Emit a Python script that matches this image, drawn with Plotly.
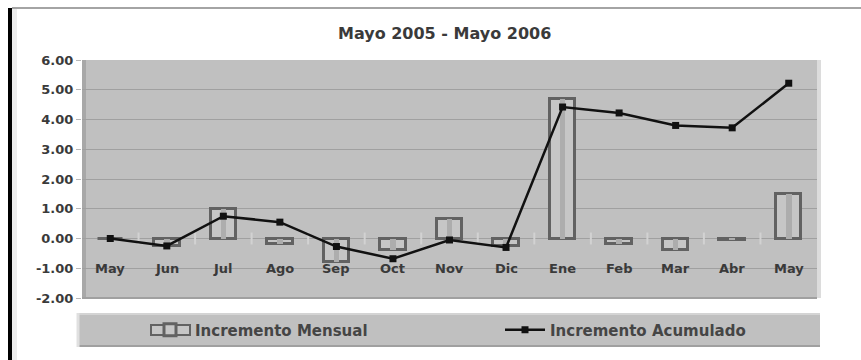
import plotly.graph_objects as go

months = ["May", "Jun", "Jul", "Ago", "Sep", "Oct", "Nov", "Dic", "Ene", "Feb", "Mar", "Abr", "May"]
mensual = [0.0, -0.25, 1.0, -0.2, -0.8, -0.4, 0.65, -0.25, 4.7, -0.2, -0.4, -0.05, 1.5]
acumulado = [0.0, -0.25, 0.75, 0.55, -0.27, -0.68, -0.05, -0.3, 4.42, 4.22, 3.8, 3.72, 5.22]
y_ticks = [6, 5, 4, 3, 2, 1, 0, -1, -2]
title_text = "Mayo 2005 - Mayo 2006"

W, H = 861, 360
L, R, T, B = 82, 44, 60, 62
PW, PH = W - L - R, H - T - B


def px(x):
    return (x - L) / PW


def py(y):
    return (H - B - y) / PH


xs = list(range(len(months)))
FONT = "DejaVu Sans"
TXT = "#3a3a3a"

fig = go.Figure()

# boundary tick marks along the zero line
tx, ty = [], []
for i in range(len(months) - 1):
    tx += [i + 0.5, i + 0.5, None]
    ty += [0.2, -0.2, None]
fig.add_trace(go.Scatter(x=tx, y=ty, mode="lines", line=dict(color="#d2d2d2", width=2),
                         showlegend=False, hoverinfo="skip"))

fig.add_trace(go.Bar(x=xs, y=mensual, width=0.45, name="Incremento Mensual", legend="legend",
                     marker=dict(color="#c6c6c6", line=dict(color="#626262", width=3))))
fig.add_trace(go.Bar(x=xs, y=mensual, width=0.1, showlegend=False, hoverinfo="skip",
                     marker=dict(color="#adadad", line=dict(width=0))))

fig.add_trace(go.Scatter(x=xs, y=acumulado, mode="lines+markers", name="Incremento Acumulado",
                         legend="legend2",
                         line=dict(color="#111111", width=2.5),
                         marker=dict(symbol="square", size=7, color="#111111")))

annotations = [dict(x=i, y=-1, xref="x", yref="y", text=m, showarrow=False,
                    font=dict(family=FONT, size=13, color=TXT, weight="bold"))
               for i, m in enumerate(months)]
annotations.append(dict(x=px(444), y=py(34), xref="paper", yref="paper", text=title_text,
                        showarrow=False, xanchor="center", yanchor="middle",
                        font=dict(family=FONT, size=16, color=TXT, weight="bold")))

shapes = [
    # outer frame pieces
    dict(type="rect", xref="paper", yref="paper", x0=px(8), x1=px(12), y0=py(360), y1=py(8),
         fillcolor="#000000", line=dict(width=0), layer="below"),
    dict(type="rect", xref="paper", yref="paper", x0=px(12), x1=px(17), y0=py(360), y1=py(9),
         fillcolor="#ececec", line=dict(width=0), layer="below"),
    dict(type="line", xref="paper", yref="paper", x0=px(12), x1=px(861), y0=py(8), y1=py(8),
         line=dict(color="#a4a4a4", width=2)),
    # plot area walls
    dict(type="rect", xref="paper", yref="paper", x0=0, x1=px(86), y0=0, y1=1,
         fillcolor="#a8a8a8", line=dict(width=0), layer="below"),
    dict(type="rect", xref="paper", yref="paper", x0=1, x1=px(821), y0=0, y1=1,
         fillcolor="#dcdcdc", line=dict(width=0), layer="below"),
    dict(type="line", xref="paper", yref="paper", x0=0, x1=1, y0=0, y1=0,
         line=dict(color="#a0a0a0", width=2)),
    # legend box
    dict(type="rect", xref="paper", yref="paper", x0=px(77), x1=px(820), y0=py(347), y1=py(313),
         fillcolor="#c0c0c0", line=dict(width=0), layer="below"),
    dict(type="line", xref="paper", yref="paper", x0=px(77), x1=px(820), y0=py(346), y1=py(346),
         line=dict(color="#a0a0a0", width=2)),
    dict(type="line", xref="paper", yref="paper", x0=px(77), x1=px(820), y0=py(314), y1=py(314),
         line=dict(color="#d4d4d4", width=2)),
    dict(type="line", xref="paper", yref="paper", x0=px(78), x1=px(78), y0=py(347), y1=py(313),
         line=dict(color="#e0e0e0", width=3)),
    # wide legend swatch for the bar series
    dict(type="rect", xref="paper", yref="paper", x0=px(151), x1=px(190), y0=py(335), y1=py(325),
         fillcolor="#c6c6c6", line=dict(color="#626262", width=2), layer="above"),
]

leg_font = dict(family=FONT, size=15, color="#454545", weight="bold")

fig.update_layout(
    width=W, height=H,
    margin=dict(l=L, r=R, t=T, b=B, pad=0, autoexpand=False),
    paper_bgcolor="#ffffff", plot_bgcolor="#c0c0c0",
    barmode="overlay",
    bargap=0,
    showlegend=True,
    hovermode=False,
    legend=dict(orientation="h", x=px(145), y=py(330), xanchor="left", yanchor="middle",
                bgcolor="rgba(0,0,0,0)", font=leg_font, itemwidth=40),
    legend2=dict(orientation="h", x=px(500), y=py(330), xanchor="left", yanchor="middle",
                 bgcolor="rgba(0,0,0,0)", font=leg_font, itemwidth=40),
    xaxis=dict(range=[-0.5, len(months) - 0.5], showgrid=False, zeroline=False,
               showticklabels=False, ticks="", showline=False, fixedrange=True),
    yaxis=dict(range=[-2, 6], tickvals=y_ticks, ticktext=[f"{v:.2f}" for v in y_ticks],
               showgrid=True, gridcolor="#a0a0a0", gridwidth=1,
               zeroline=True, zerolinecolor="#a0a0a0", zerolinewidth=1,
               ticks="outside", ticklen=5, tickcolor="#b8b8b8", showline=False,
               tickfont=dict(family=FONT, size=13, color=TXT, weight="bold"),
               fixedrange=True),
    annotations=annotations,
    shapes=shapes,
)

fig.write_html("out.html")
